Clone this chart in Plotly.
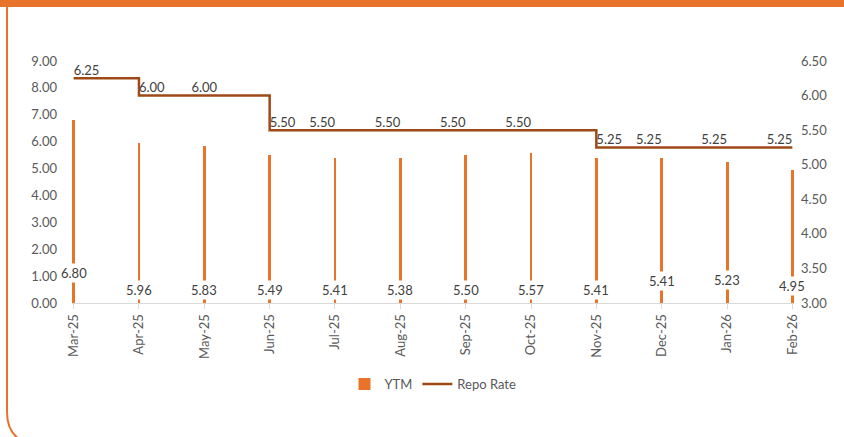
import plotly.graph_objects as go

months = ["Mar-25", "Apr-25", "May-25", "Jun-25", "Jul-25", "Aug-25",
          "Sep-25", "Oct-25", "Nov-25", "Dec-25", "Jan-26", "Feb-26"]
ytm = [6.80, 5.96, 5.83, 5.49, 5.41, 5.38, 5.50, 5.57, 5.41, 5.41, 5.23, 4.95]
repo = [6.25, 6.00, 6.00, 5.50, 5.50, 5.50, 5.50, 5.50, 5.25, 5.25, 5.25, 5.25]
left_ticks = [0, 1, 2, 3, 4, 5, 6, 7, 8, 9]
right_ticks = [3.0, 3.5, 4.0, 4.5, 5.0, 5.5, 6.0, 6.5]

# styling / placement (not data)
ORANGE = "#E8732A"
BROWN = "#9E4A17"
GREY = "#595959"
FONT = "Lato"
ytm_label_y = [1.1, 0.5, 0.5, 0.5, 0.5, 0.5, 0.5, 0.5, 0.5, 0.8, 0.85, 0.65]
repo_text_pos = ["top right", "top right", "top center", "top right", "top left",
                 "top left", "top left", "top left", "top right", "top left",
                 "top left", "top left"]

W, H = 844, 437
L, R, T, B = 72, 50, 61, 134
pw, ph = W - L - R, H - T - B


def px(x):
    return (x - L) / pw


def py(y):
    return (H - B - y) / ph


fig = go.Figure()
fig.add_trace(go.Bar(
    x=list(range(len(months))), y=ytm, name="YTM",
    marker=dict(color=ORANGE, line=dict(width=0)),
    width=0.045, yaxis="y",
))
fig.add_trace(go.Scatter(
    x=list(range(len(months))), y=repo, name="Repo Rate",
    mode="lines+text", line=dict(color=BROWN, width=2.5, shape="hv"),
    text=[f"{v:.2f}" for v in repo], textposition=repo_text_pos,
    textfont=dict(family=FONT, size=13, color="#404040"),
    yaxis="y2", cliponaxis=False,
))

for i, v in enumerate(ytm):
    fig.add_annotation(
        x=i, y=ytm_label_y[i], xref="x", yref="y", text=f"{v:.2f}",
        showarrow=False, bgcolor="white", borderpad=1,
        font=dict(family=FONT, size=13, color="#404040"),
    )

shapes = [
    dict(type="rect", xref="paper", yref="paper",
         x0=px(0), x1=px(W), y0=py(0), y1=py(7),
         fillcolor=ORANGE, line=dict(width=0), layer="above"),
    dict(type="path", xref="paper", yref="paper",
         path=(f"M {px(7)},{py(7)} L {px(7)},{py(412)} "
               f"Q {px(7)},{py(434)} {px(24)},{py(442)}"),
         line=dict(color=ORANGE, width=2)),
]

fig.update_layout(
    width=W, height=H,
    margin=dict(l=L, r=R, t=T, b=B),
    paper_bgcolor="white", plot_bgcolor="white",
    font=dict(family=FONT, size=13, color=GREY),
    showlegend=True,
    legend=dict(orientation="h", x=0.5, xanchor="center", y=py(384), yanchor="middle",
                font=dict(family=FONT, size=13, color=GREY), itemwidth=30,
                traceorder="normal"),
    xaxis=dict(
        tickmode="array", tickvals=list(range(len(months))), ticktext=months,
        range=[-0.025, len(months) - 1 + 0.025], tickangle=-90,
        showline=True, linecolor="#d9d9d9", linewidth=1,
        ticks="outside", ticklen=5, tickcolor="#d9d9d9",
        showgrid=False, zeroline=False,
        tickfont=dict(family=FONT, size=13, color=GREY),
    ),
    yaxis=dict(
        range=[0, 9], tickvals=left_ticks, tickformat=".2f",
        showgrid=False, zeroline=False, showline=False,
        ticklabelstandoff=14,
        tickfont=dict(family=FONT, size=13, color=GREY),
    ),
    yaxis2=dict(
        range=[3, 6.5], tickvals=right_ticks, tickformat=".2f",
        overlaying="y", side="right",
        showgrid=False, zeroline=False, showline=False,
        ticklabelstandoff=6,
        tickfont=dict(family=FONT, size=13, color=GREY),
    ),
    shapes=shapes,
    bargap=0,
)

fig.write_html(
    "out.html",
    config={"displayModeBar": False},
    post_script="document.body.style.margin='0';document.body.style.overflow='hidden';",
)
